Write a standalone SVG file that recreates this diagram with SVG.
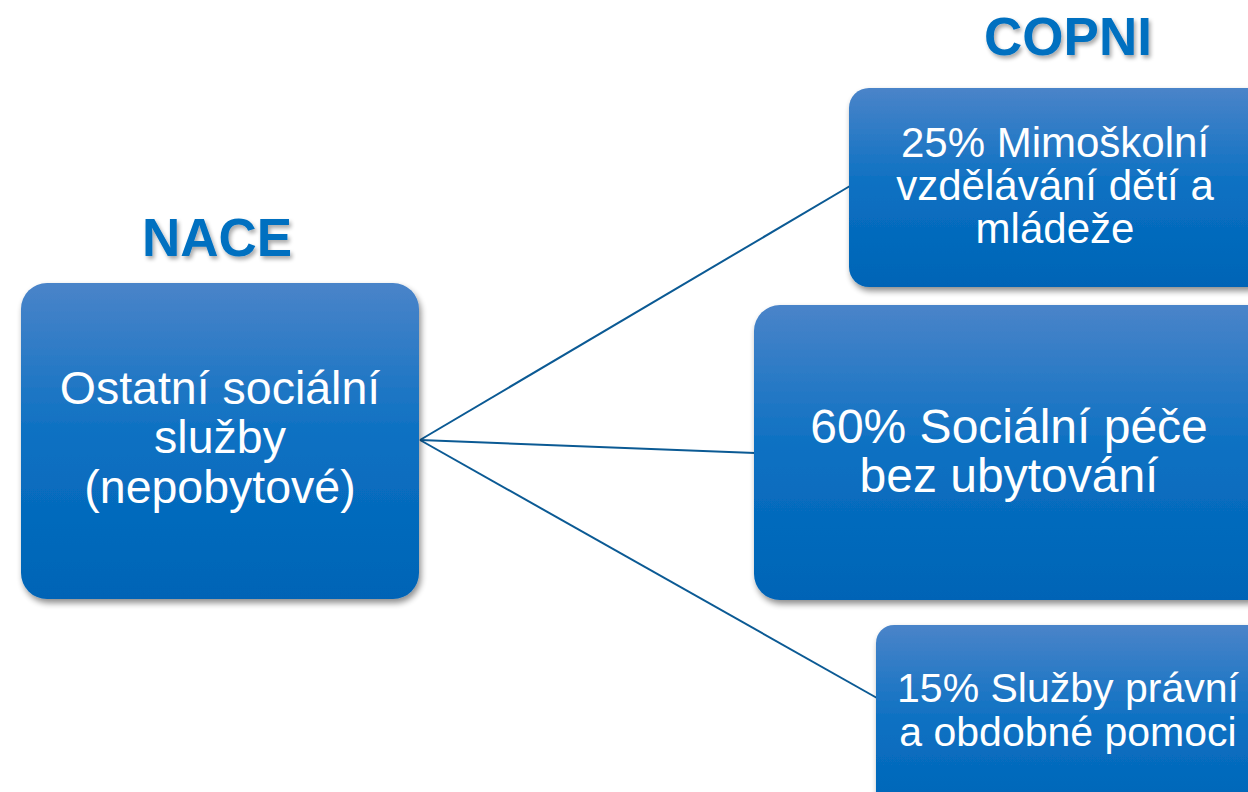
<svg xmlns="http://www.w3.org/2000/svg" width="1248" height="792" viewBox="0 0 1248 792">
<defs>
<linearGradient id="g" x1="0" y1="0" x2="0" y2="1">
<stop offset="0" stop-color="#4a84c9"/>
<stop offset="0.5" stop-color="#0a70c2"/>
<stop offset="1" stop-color="#0064b6"/>
</linearGradient>
<filter id="sh" x="-10%" y="-10%" width="125%" height="125%">
<feGaussianBlur in="SourceAlpha" stdDeviation="3"/>
<feOffset dx="2" dy="4" result="b"/>
<feComponentTransfer><feFuncA type="linear" slope="0.45"/></feComponentTransfer>
<feMerge><feMergeNode/><feMergeNode in="SourceGraphic"/></feMerge>
</filter>
<filter id="tsh" x="-10%" y="-10%" width="130%" height="140%">
<feGaussianBlur in="SourceAlpha" stdDeviation="2"/>
<feOffset dx="2" dy="3"/>
<feComponentTransfer><feFuncA type="linear" slope="0.35"/></feComponentTransfer>
<feMerge><feMergeNode/><feMergeNode in="SourceGraphic"/></feMerge>
</filter>
</defs>
<style>
.box{fill:url(#g);filter:url(#sh)}
.t{font-family:"Liberation Sans",Arial,sans-serif;fill:#fff;text-anchor:middle}
.h{font-family:"Liberation Sans",Arial,sans-serif;font-weight:bold;fill:#0070c0;font-size:53px;text-anchor:middle;filter:url(#tsh)}
.c{stroke:#0b5a94;stroke-width:2;fill:none}
</style>
<rect width="1248" height="792" fill="#fff"/>
<text class="h" x="217" y="256">NACE</text>
<text class="h" x="1068" y="55">COPNI</text>
<g id="connectors">
<line class="c" x1="420" y1="440" x2="850" y2="186"/>
<line class="c" x1="420" y1="440" x2="755" y2="453"/>
<line class="c" x1="420" y1="440" x2="877" y2="698"/>
</g>
<g id="nace">
<rect class="box" x="21" y="283" width="398" height="316" rx="26"/>
<text class="t" font-size="46.5"><tspan x="220" y="404">Ostatní sociální</tspan><tspan x="220" y="453">služby</tspan><tspan x="220" y="503">(nepobytové)</tspan></text>
</g>
<g id="copni1">
<rect class="box" x="849" y="88" width="420" height="199" rx="20"/>
<text class="t" font-size="42"><tspan x="1055" y="157">25% Mimoškolní</tspan><tspan x="1055" y="200">vzdělávání dětí a</tspan><tspan x="1055" y="243">mládeže</tspan></text>
</g>
<g id="copni2">
<rect class="box" x="754" y="305" width="520" height="295" rx="26"/>
<text class="t" font-size="48"><tspan x="1009" y="443">60% Sociální péče</tspan><tspan x="1009" y="492">bez ubytování</tspan></text>
</g>
<g id="copni3">
<rect class="box" x="876" y="625" width="420" height="200" rx="18"/>
<text class="t" font-size="41"><tspan x="1068" y="702">15% Služby právní</tspan><tspan x="1068" y="746">a obdobné pomoci</tspan></text>
</g>
</svg>
